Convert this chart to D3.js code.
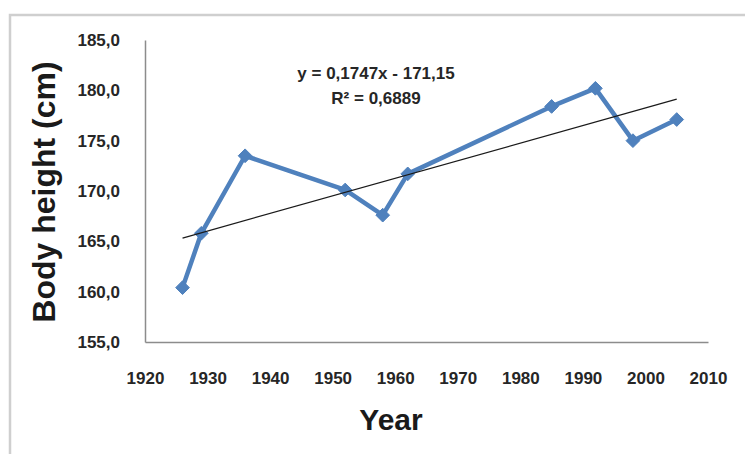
<!DOCTYPE html>
<html>
<head>
<meta charset="utf-8">
<script src="https://cdn.jsdelivr.net/npm/d3@7"></script>
<style>
  html, body { margin: 0; padding: 0; background: #ffffff; }
  svg { display: block; font-family: "Liberation Sans", Arial, sans-serif; }
</style>
</head>
<body>
<svg id="chart" width="745" height="454"></svg>
<script>
// Survey years and mean body height (cm)
const years = [1926, 1929, 1936, 1952, 1958, 1962, 1985, 1992, 1998, 2005];
const heights = [160.4, 165.8, 173.5, 170.1, 167.6, 171.7, 178.4, 180.2, 175.0, 177.1];

// Linear trend as reported on the chart
const trendSlope = 0.1747;
const trendIntercept = -171.15;
const trendLabel = "y = 0,1747x - 171,15";
const r2Label = "R\u00B2 = 0,6889";

const xTicks = [1920, 1930, 1940, 1950, 1960, 1970, 1980, 1990, 2000, 2010];
const yTicks = [155, 160, 165, 170, 175, 180, 185];

const svg = d3.select("#chart");

// outer chart frame
svg.append("rect")
  .attr("x", 10).attr("y", 15)
  .attr("width", 760).attr("height", 470)
  .attr("fill", "none")
  .attr("stroke", "#cfcfcf")
  .attr("stroke-width", 2.5);

const plot = { left: 145, right: 708, top: 40, bottom: 342 };

const x = d3.scaleLinear().domain([1920, 2010]).range([plot.left, plot.right]);
const y = d3.scaleLinear().domain([155, 185]).range([plot.bottom, plot.top]);

const commaFmt = d => d3.format(".1f")(d).replace(".", ",");

// axes
const xAxis = svg.append("g")
  .attr("transform", `translate(0,${plot.bottom})`)
  .call(d3.axisBottom(x).tickValues(xTicks).tickFormat(d3.format("d")).tickSize(0).tickPadding(30));
const yAxis = svg.append("g")
  .attr("transform", `translate(${plot.left},0)`)
  .call(d3.axisLeft(y).tickValues(yTicks).tickFormat(commaFmt).tickSize(0).tickPadding(25));

[xAxis, yAxis].forEach(g => {
  g.select(".domain").attr("stroke", "#8c8c8c").attr("stroke-width", 1.5);
  g.selectAll("text")
    .attr("fill", "#262626")
    .attr("font-size", 17)
    .attr("font-weight", "bold");
});

// data line
const line = d3.line()
  .x((d, i) => x(years[i]))
  .y(d => y(d));

svg.append("path")
  .datum(heights)
  .attr("d", line)
  .attr("fill", "none")
  .attr("stroke", "#4f81bd")
  .attr("stroke-width", 4.5)
  .attr("stroke-linejoin", "round");

// diamond markers
const diamond = d3.symbol().type(d3.symbolDiamond2).size(120);
svg.append("g")
  .selectAll("path")
  .data(heights)
  .join("path")
  .attr("d", diamond)
  .attr("transform", (d, i) => `translate(${x(years[i])},${y(d)})`)
  .attr("fill", "#4f81bd")
  .attr("stroke", "#4f81bd")
  .attr("stroke-width", 1);

// trend line over the observed year range
const trendYears = d3.extent(years);
svg.append("line")
  .attr("x1", x(trendYears[0]))
  .attr("y1", y(trendSlope * trendYears[0] + trendIntercept))
  .attr("x2", x(trendYears[1]))
  .attr("y2", y(trendSlope * trendYears[1] + trendIntercept))
  .attr("stroke", "#1a1a1a")
  .attr("stroke-width", 1.2);

// trend equation
const eq = svg.append("g")
  .attr("font-size", 17)
  .attr("font-weight", "bold")
  .attr("fill", "#262626")
  .attr("text-anchor", "middle");
eq.append("text").attr("x", 376).attr("y", 79).text(trendLabel);
eq.append("text").attr("x", 376).attr("y", 104).text(r2Label);

// axis titles
svg.append("text")
  .attr("transform", "translate(55,192) rotate(-90)")
  .attr("text-anchor", "middle")
  .attr("font-size", 32)
  .attr("font-weight", "bold")
  .attr("fill", "#1a1a1a")
  .text("Body height (cm)");

svg.append("text")
  .attr("x", 391)
  .attr("y", 430)
  .attr("text-anchor", "middle")
  .attr("font-size", 30)
  .attr("font-weight", "bold")
  .attr("fill", "#1a1a1a")
  .text("Year");
</script>
</body>
</html>
